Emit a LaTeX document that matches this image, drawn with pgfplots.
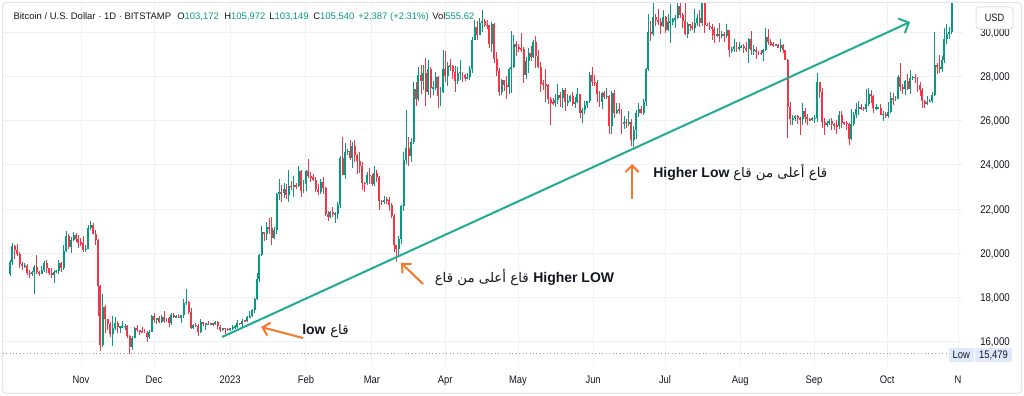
\documentclass[border=0pt]{standalone}
\usepackage{pgfplots}
\pgfplotsset{compat=1.18}
\usepackage{pgfplotstable}
\usetikzlibrary{arrows.meta}
\usepackage{fontspec}
\setmainfont{Liberation Sans}
\newfontfamily\tickfont{Liberation Sans}[FakeStretch=0.86]
\newfontfamily\arabicfont[Script=Arabic]{DejaVu Sans}
\TeXXeTstate=1
\definecolor{tc}{HTML}{131722}
\definecolor{upc}{HTML}{089981}
\definecolor{dnc}{HTML}{F23645}
\definecolor{trend}{HTML}{22AB94}
\definecolor{orng}{HTML}{F7772B}
\definecolor{gridc}{HTML}{EFF1F5}
\definecolor{framec}{HTML}{E0E3EB}
\definecolor{lowbg}{HTML}{DEE9FB}
\definecolor{lowline}{HTML}{9598A1}

\pgfplotstableread{
d o h l c
2 19058 19700 19000 19630
3 19630 20480 19500 20340
4 20340 20360 19760 20160
5 20160 20440 19870 19960
6 19960 20050 19330 19530
7 19530 19600 19260 19420
8 19420 19550 19320 19440
9 19440 19530 19020 19130
10 19130 19260 18870 19060
11 19060 19210 18970 19150
12 19150 19500 18190 19380
13 19380 19950 19090 19180
14 19180 19220 18980 19070
15 19070 19420 19060 19270
16 19270 19680 19160 19550
17 19550 19700 19100 19330
18 19330 19350 19010 19120
19 19120 19340 18900 19040
20 19040 19240 18660 19170
21 19170 19250 19110 19210
22 19210 19690 19080 19570
23 19570 19600 19160 19330
24 19330 20400 19250 20090
25 20090 21020 20060 20770
26 20770 20860 20220 20290
27 20290 20750 20000 20600
28 20600 20990 20560 20820
29 20820 20930 20510 20630
30 20630 20830 20240 20490
31 20490 20690 20350 20480
32 20480 20800 20050 20160
33 20160 20390 20050 20210
34 20210 21300 20180 21150
35 21150 21470 21080 21300
36 21300 21370 20880 20900
37 20900 21050 20400 20590
38 20590 20670 17170 18540
39 18540 18580 15600 15880
40 15880 18150 15760 17590
41 17590 17650 16400 17040
42 17040 17060 16560 16800
43 16800 16890 16230 16340
44 16340 17180 15800 16620
45 16620 17110 16540 16880
46 16880 16970 16410 16660
47 16660 16740 16410 16690
48 16690 16930 16620 16700
49 16700 16810 16550 16710
50 16710 16750 16170 16280
51 16280 16300 15479 15780
52 15780 16260 15630 16190
53 16190 16670 16170 16610
54 16610 16790 16460 16520
55 16520 16530 16330 16460
56 16460 16700 16410 16440
57 16440 16600 16400 16420
58 16420 16480 16000 16220
59 16220 16530 16120 16440
60 16440 17240 16430 17160
61 17160 17330 16860 16980
62 16980 17100 16800 17090
63 17090 17160 16870 16890
64 16890 17200 16880 17110
65 17110 17420 16880 16970
66 16970 17100 16910 17090
67 17090 17140 16680 16840
68 16840 17300 16750 17220
69 17220 17300 17080 17130
70 17130 17220 17090 17140
71 17140 17270 17070 17090
72 17090 17240 16870 17200
73 17200 17960 17080 17780
74 17780 18390 17660 17810
75 17810 17850 17280 17360
76 17360 17530 16590 16630
77 16630 16800 16580 16780
78 16780 16860 16680 16740
79 16740 16810 16260 16440
80 16440 17060 16400 16900
81 16900 16900 16710 16820
82 16820 16870 16560 16830
83 16830 16950 16750 16780
84 16780 16860 16760 16840
85 16840 16870 16740 16830
86 16830 16940 16790 16920
87 16920 16960 16590 16700
88 16700 16780 16460 16540
89 16540 16650 16480 16630
90 16630 16640 16340 16600
91 16600 16650 16480 16540
92 16540 16640 16490 16610
93 16610 16760 16550 16670
94 16670 16780 16600 16680
95 16680 16990 16650 16850
96 16850 16880 16750 16830
97 16830 17030 16680 16950
98 16950 16970 16900 16940
99 16940 17170 16910 17120
100 17120 17400 17100 17180
101 17180 17490 17150 17440
102 17440 17990 17320 17940
103 17940 19100 17910 18850
104 18850 19970 18720 19930
105 19930 21260 19890 20950
106 20950 20990 20550 20880
107 20880 21440 20600 21190
108 21190 21620 20880 21130
109 21130 21650 20400 20680
110 20680 21180 20670 21070
111 21070 22750 20900 22670
112 22670 23340 22420 22780
113 22780 23080 22330 22710
114 22710 23170 22520 22920
115 22920 23130 22470 22630
116 22630 23780 22330 23060
117 23060 23270 22850 23010
118 23010 23480 22560 23080
119 23080 23160 22890 23030
120 23030 23950 22980 23740
121 23740 23780 22550 22830
122 22830 23310 22720 23130
123 23130 23790 22810 23730
124 23730 24250 23410 23490
125 23490 23700 23220 23430
126 23430 23590 23270 23330
127 23330 23430 22770 22930
128 22930 23150 22630 22760
129 22760 23350 22700 23240
130 23240 23440 22680 22960
131 22960 22990 21700 21800
132 21800 21930 21480 21630
133 21630 21900 21610 21860
134 21860 22080 21630 21780
135 21780 21890 21360 21790
136 21790 22320 21540 22200
137 22200 24390 22050 24330
138 24330 25250 23520 23530
139 23530 24990 23370 24570
140 24570 24700 24460 24640
141 24640 25120 24230 24290
142 24290 25030 23860 24840
143 24840 25130 24150 24440
144 24440 24470 23600 24190
145 24190 24590 23620 23940
146 23940 24110 22870 23170
147 23170 23210 22770 23160
148 23160 23680 23080 23550
149 23550 23880 23130 23490
150 23490 23600 23040 23140
151 23140 23970 23030 23630
152 23630 23770 23220 23470
153 23470 23480 21970 22360
154 22360 22410 22200 22350
155 22350 22610 22250 22430
156 22430 22550 22230 22410
157 22410 22540 21930 22200
158 22200 22270 21580 21700
159 21700 21800 20050 20360
160 20360 20370 19600 20190
161 20190 20800 19880 20630
162 20630 22170 20420 22140
163 22140 24560 21930 24200
164 24200 26500 24060 24770
165 24770 25240 23930 24390
166 24390 25200 24130 25050
167 25050 27760 24950 27440
168 27440 27730 26660 26970
169 26970 28420 26900 28040
170 28040 28500 27180 27790
171 27790 28500 27400 28170
172 28170 28830 26680 27270
173 27270 28750 27150 28350
174 28350 28400 27020 27480
175 27480 27800 27170 27490
176 27490 28200 27400 27990
177 27990 28030 26560 27130
178 27130 27500 26650 27270
179 27270 29170 27240 28350
180 28350 29160 27720 28030
181 28030 28640 27550 28470
182 28470 28800 28240 28460
183 28460 28530 27870 28200
184 28200 28480 27270 27800
185 27800 28440 27660 28170
186 28170 28740 27830 28180
187 28180 28190 27720 28040
188 28040 28100 27780 27920
189 27920 28170 27880 27950
190 27950 28470 27810 28330
191 28330 29770 28170 29650
192 29650 30560 29620 30230
193 30230 30500 29640 29880
194 29880 30620 29870 30390
195 30390 31000 29990 30480
196 30480 30600 30240 30320
197 30320 30550 30130 30300
198 30300 30320 29270 29440
199 29440 30470 29100 30380
200 30380 30420 28600 28800
201 28800 29100 28000 28250
202 28250 28370 27130 27270
203 27270 27880 27150 27820
204 27820 27820 27340 27590
205 27590 28000 26970 27520
206 27520 28390 27220 28310
207 28310 30030 27240 28430
208 28430 29880 28390 29480
209 29480 29580 28900 29340
210 29340 29450 29090 29250
211 29250 29960 29090 29240
212 29240 29330 27680 28080
213 28080 28880 27870 28680
214 28680 29260 28140 29030
215 29030 29370 28690 28850
216 28850 29660 28820 29530
217 29530 29830 28390 28900
218 28900 29180 28380 28440
219 28440 28630 27310 27670
220 27670 27830 27370 27630
221 27630 28320 26860 27620
222 27620 27640 26730 26990
223 26990 27070 25810 26800
224 26800 27020 26700 26780
225 26780 27180 26600 26930
226 26930 27650 26750 27170
227 27170 27270 26600 27030
228 27030 27470 26590 27400
229 27400 27480 26420 26830
230 26830 27180 26640 26890
231 26890 27150 26840 27110
232 27110 27270 26680 26750
233 26750 27060 26550 26850
234 26850 27490 26810 27220
235 27220 27220 26100 26330
236 26330 26590 25870 26480
237 26480 26900 26310 26720
238 26720 26880 26580 26870
239 26870 28200 26790 28080
240 28080 28440 27560 27750
241 27750 28040 27570 27700
242 27700 27830 26850 27220
243 27220 27330 26630 26820
244 26820 27300 26520 27250
245 27250 27320 26960 27070
246 27070 27450 26960 27120
247 27120 27140 25400 25750
248 25750 27350 25390 27230
249 27230 27360 26120 26350
250 26350 26790 26300 26500
251 26500 26780 26280 26480
252 26480 26530 25380 25850
253 25850 26200 25640 25940
254 25940 26090 25650 25900
255 25900 26420 25750 25920
256 25920 26090 24830 25130
257 25130 25740 24800 25580
258 25580 26470 25170 26340
259 26340 26780 26180 26510
260 26510 26680 26280 26340
261 26340 26990 26270 26850
262 26850 28390 26640 28310
263 28310 30800 28260 30000
264 30000 30500 29600 29890
265 29890 31430 29810 30690
266 30690 30800 30260 30550
267 30550 31040 30300 30470
268 30470 30650 29920 30270
269 30270 31000 30230 30700
270 30700 30710 29940 30080
271 30080 30820 30050 30450
272 30450 31280 29500 30470
273 30470 30650 30330 30590
274 30590 30790 30200 30620
275 30620 31380 30580 31160
276 31160 31320 30640 30770
277 30770 30880 30200 30510
278 30510 31500 29870 29900
279 29900 30440 29710 30350
280 30350 30380 30050 30290
281 30290 30440 30090 30170
282 30170 31030 29950 30420
283 30420 30800 30280 30620
284 30620 30980 30220 30390
285 30390 31820 30270 31470
286 31470 31640 29940 30320
287 30320 30390 30250 30290
288 30290 30440 30070 30240
289 30240 30340 29660 30140
290 30140 30240 29510 29860
291 29860 30190 29770 29910
292 29910 30420 29560 29800
293 29800 30050 29720 29910
294 29910 29990 29540 29800
295 29800 30350 29730 30080
296 30080 30100 28860 29180
297 29180 29330 29050 29230
298 29230 29690 29100 29350
299 29350 29570 29110 29210
300 29210 29530 29130 29320
301 29320 29410 29260 29360
302 29360 29450 29040 29280
303 29280 29530 29110 29230
304 29230 29740 28600 29700
305 29700 30040 28960 29180
306 29180 29420 28960 29190
307 29190 29310 28800 29090
308 29090 29120 28960 29050
309 29050 29170 28980 29040
310 29040 29240 28700 29180
311 29180 30200 29120 29770
312 29770 30130 29400 29570
313 29570 29700 29360 29430
314 29430 29540 29330 29400
315 29400 29460 29360 29420
316 29420 29450 29260 29280
317 29280 29680 29100 29400
318 29400 29470 29060 29170
319 29170 29200 28720 28720
320 28720 28780 25200 26620
321 26620 26820 25800 26050
322 26050 26270 25800 26100
323 26100 26270 26000 26190
324 26190 26250 25830 26120
325 26120 26140 25330 26050
326 26050 26790 25800 26430
327 26430 26570 25880 26160
328 26160 26300 25780 26050
329 26050 26120 25980 26010
330 26010 26160 25980 26100
331 26100 26230 25900 26110
332 26110 28140 25930 27730
333 27730 27740 27000 27300
334 27300 27490 25650 25940
335 25940 26130 25340 25800
336 25800 25970 25720 25870
337 25870 26070 25790 25970
338 25970 26100 25590 25830
339 25830 25900 25570 25790
340 25790 26010 25380 25750
341 25750 26440 25620 26240
342 26240 26420 25650 25910
343 25910 25940 25810 25900
344 25900 25980 25570 25840
345 25840 25870 24900 25160
346 25160 26530 25140 25840
347 25840 26390 25770 26230
348 26230 26810 26130 26530
349 26530 26870 26230 26600
350 26600 26770 26470 26570
351 26570 26620 26420 26530
352 26530 27410 26390 26760
353 26760 27490 26680 27210
354 27210 27380 26800 27130
355 27130 27150 26360 26570
356 26570 26740 26480 26580
357 26580 26620 26520 26590
358 26590 26730 26230 26250
359 26250 26410 26000 26300
360 26300 26390 26100 26220
361 26220 26820 26110 26370
362 26370 27300 26340 27030
363 27030 27230 26690 26910
364 26910 27090 26890 26970
365 26970 28060 26960 27990
366 27990 28590 27340 27500
367 27500 27670 27180 27430
368 27430 27830 27160 27790
369 27790 28120 27370 27420
370 27420 28280 27190 27940
371 27940 28030 27850 27960
372 27960 28100 27700 27940
373 27940 27990 27300 27590
374 27590 27740 27110 27390
375 27390 27480 26560 26870
376 26870 26940 26560 26750
377 26750 27100 26700 26860
378 26860 26970 26820 26870
379 26870 27290 26800 27160
380 27160 30000 27120 28520
381 28520 28610 28090 28410
382 28410 28960 28130 28330
383 28330 28930 28180 28720
384 28720 30200 28620 29680
385 29680 30350 29470 29920
386 29920 30230 29690 29990
387 29990 34000 29900 33070
}\candles

\begin{document}
\begin{tikzpicture}
\fill[white] (0,0) rectangle (768pt,297pt);
\begin{axis}[
  at={(2.25pt,22.5pt)}, anchor=south west,
  scale only axis, width=720pt, height=272.25pt,
  xmin=-0.84, xmax=391.6, ymin=14916, ymax=31310,
  axis line style={draw=none},
  major tick length=0pt,
  xtick={31.05,60.9,91.97,123.0,150.0,179.9,209.7,240.4,269.8,300.5,330.7,360.6,389.6},
  xticklabels={Nov,Dec,2023,Feb,Mar,Apr,May,Jun,Jul,Aug,Sep,Oct,N},
  ytick={16000,18000,20000,22000,24000,26000,28000,30000},
  yticklabels={{16,000},{18,000},{20,000},{22,000},{24,000},{26,000},{28,000},{30,000}},
  yticklabel pos=right,
  xticklabel style={font=\tickfont\fontsize{8.2}{10}\selectfont, text=tc, anchor=base, yshift=-12.75pt, inner sep=0pt},
  yticklabel style={font=\tickfont\fontsize{8.4}{10}\selectfont, text=tc, anchor=base east, xshift=35.25pt, yshift=-3pt, inner sep=0pt},
  grid=major, major grid style={draw=gridc, line width=0.75pt},
  clip=true,
]
\addplot[lowline, dotted, line width=0.6pt, forget plot] coordinates {(-1,15479) (385.9,15479)};
% wicks
\addplot[draw=none, mark=none, forget plot,
  restrict expr to domain={\thisrow{c}-\thisrow{o}}{0:100000},
  error bars/.cd, y dir=both, y explicit, error mark=none,
  error bar style={line width=0.62pt, draw=upc}]
  table[x=d, y expr={(\thisrow{h}+\thisrow{l})/2}, y error expr={(\thisrow{h}-\thisrow{l})/2}] {\candles};
\addplot[draw=none, mark=none, forget plot,
  restrict expr to domain={\thisrow{c}-\thisrow{o}}{-100000:-0.5},
  error bars/.cd, y dir=both, y explicit, error mark=none,
  error bar style={line width=0.62pt, draw=dnc}]
  table[x=d, y expr={(\thisrow{h}+\thisrow{l})/2}, y error expr={(\thisrow{h}-\thisrow{l})/2}] {\candles};
% bodies
\addplot[draw=none, mark=none, forget plot,
  restrict expr to domain={\thisrow{c}-\thisrow{o}}{0:100000},
  error bars/.cd, y dir=both, y explicit, error mark=none,
  error bar style={line width=1.48pt, draw=upc}]
  table[x=d, y expr={(\thisrow{o}+\thisrow{c})/2}, y error expr={max(abs(\thisrow{c}-\thisrow{o})/2,28)}] {\candles};
\addplot[draw=none, mark=none, forget plot,
  restrict expr to domain={\thisrow{c}-\thisrow{o}}{-100000:-0.5},
  error bars/.cd, y dir=both, y explicit, error mark=none,
  error bar style={line width=1.48pt, draw=dnc}]
  table[x=d, y expr={(\thisrow{o}+\thisrow{c})/2}, y error expr={max(abs(\thisrow{c}-\thisrow{o})/2,28)}] {\candles};
% trend line
\addplot[trend, line width=1.5pt, -{Straight Barb[length=6pt,width=12pt]}] coordinates {(88.7,16226) (369.96,30452)};
% orange arrows
\addplot[orng, line width=1.5pt, -{Straight Barb[length=5pt,width=10pt]}] coordinates {(121.8,16181) (104.7,16677)};
\addplot[orng, line width=1.5pt, -{Straight Barb[length=5pt,width=10pt]}] coordinates {(170.9,18619) (161.9,19568)};
\addplot[orng, line width=1.5pt, -{Straight Barb[length=5pt,width=10pt]}] coordinates {(256.3,22458) (256.3,24039)};
\end{axis}
\begin{scope}[x=0.75pt, y=-0.75pt, shift={(0pt,297pt)}]
  \draw[framec, line width=0.75pt, rounded corners=3pt] (2.5,2.5) rectangle (1021.5,393.5);
  % header
  \begin{scope}[every node/.style={anchor=base west, inner sep=0pt, font=\fontsize{7.1}{8}\selectfont}]
    \node[text=tc] at (13.3,19.3) {Bitcoin / U.S. Dollar · 1D · BITSTAMP};
    \node at (177,19.3) {\textcolor{tc}{O}\textcolor{upc}{103,172}};
    \node at (224,19.3) {\textcolor{tc}{H}\textcolor{upc}{105,972}};
    \node at (269,19.3) {\textcolor{tc}{L}\textcolor{upc}{103,149}};
    \node at (313,19.3) {\textcolor{tc}{C}\textcolor{upc}{105,540}};
    \node at (358,19.3) {\textcolor{upc}{+2,387 (+2.31\%)}};
    \node at (432,19.3) {\textcolor{tc}{Vol}\textcolor{upc}{555.62}};
  \end{scope}
  % USD box
  \draw[framec, fill=white, line width=0.75pt, rounded corners=2.5pt] (976,7) rectangle (1013,29);
  \node[text=tc, font=\tickfont\fontsize{8}{9}\selectfont, inner sep=0pt] at (994.5,18) {USD};
  % Low box
  \fill[lowbg] (949,348) rectangle (973.5,362);
  \fill[lowbg] (975,348) rectangle (1012,362);
  \node[text=tc, font=\tickfont\fontsize{8.2}{9}\selectfont, inner sep=0pt, anchor=base] at (961.3,358.5) {Low};
  \node[text=tc, font=\tickfont\fontsize{8.2}{9}\selectfont, inner sep=0pt, anchor=base] at (993.5,358.5) {15,479};
  % annotations
  \node[text=tc, font=\fontsize{10.5}{12}\selectfont\bfseries, inner sep=0pt, anchor=base west] at (302,335) {low};
  \node[text=tc, font=\arabicfont\fontsize{10}{12}\selectfont, inner sep=0pt, anchor=base west] at (330,335) {\beginR قاع\endR};
  \node[text=tc, font=\fontsize{10.5}{12}\selectfont\bfseries, inner sep=0pt, anchor=base west] at (533,283) {Higher LOW};
  \node[text=tc, font=\arabicfont\fontsize{10}{12}\selectfont, inner sep=0pt, anchor=base east] at (529,283) {\beginR قاع أعلى من قاع\endR};
  \node[text=tc, font=\fontsize{10.5}{12}\selectfont\bfseries, inner sep=0pt, anchor=base west] at (653,178) {Higher Low};
  \node[text=tc, font=\arabicfont\fontsize{10}{12}\selectfont, inner sep=0pt, anchor=base west] at (733,178) {\beginR قاع أعلى من قاع\endR};
\end{scope}
\pgfresetboundingbox
\path (0,0) rectangle (768pt,297pt);
\end{tikzpicture}
\end{document}
